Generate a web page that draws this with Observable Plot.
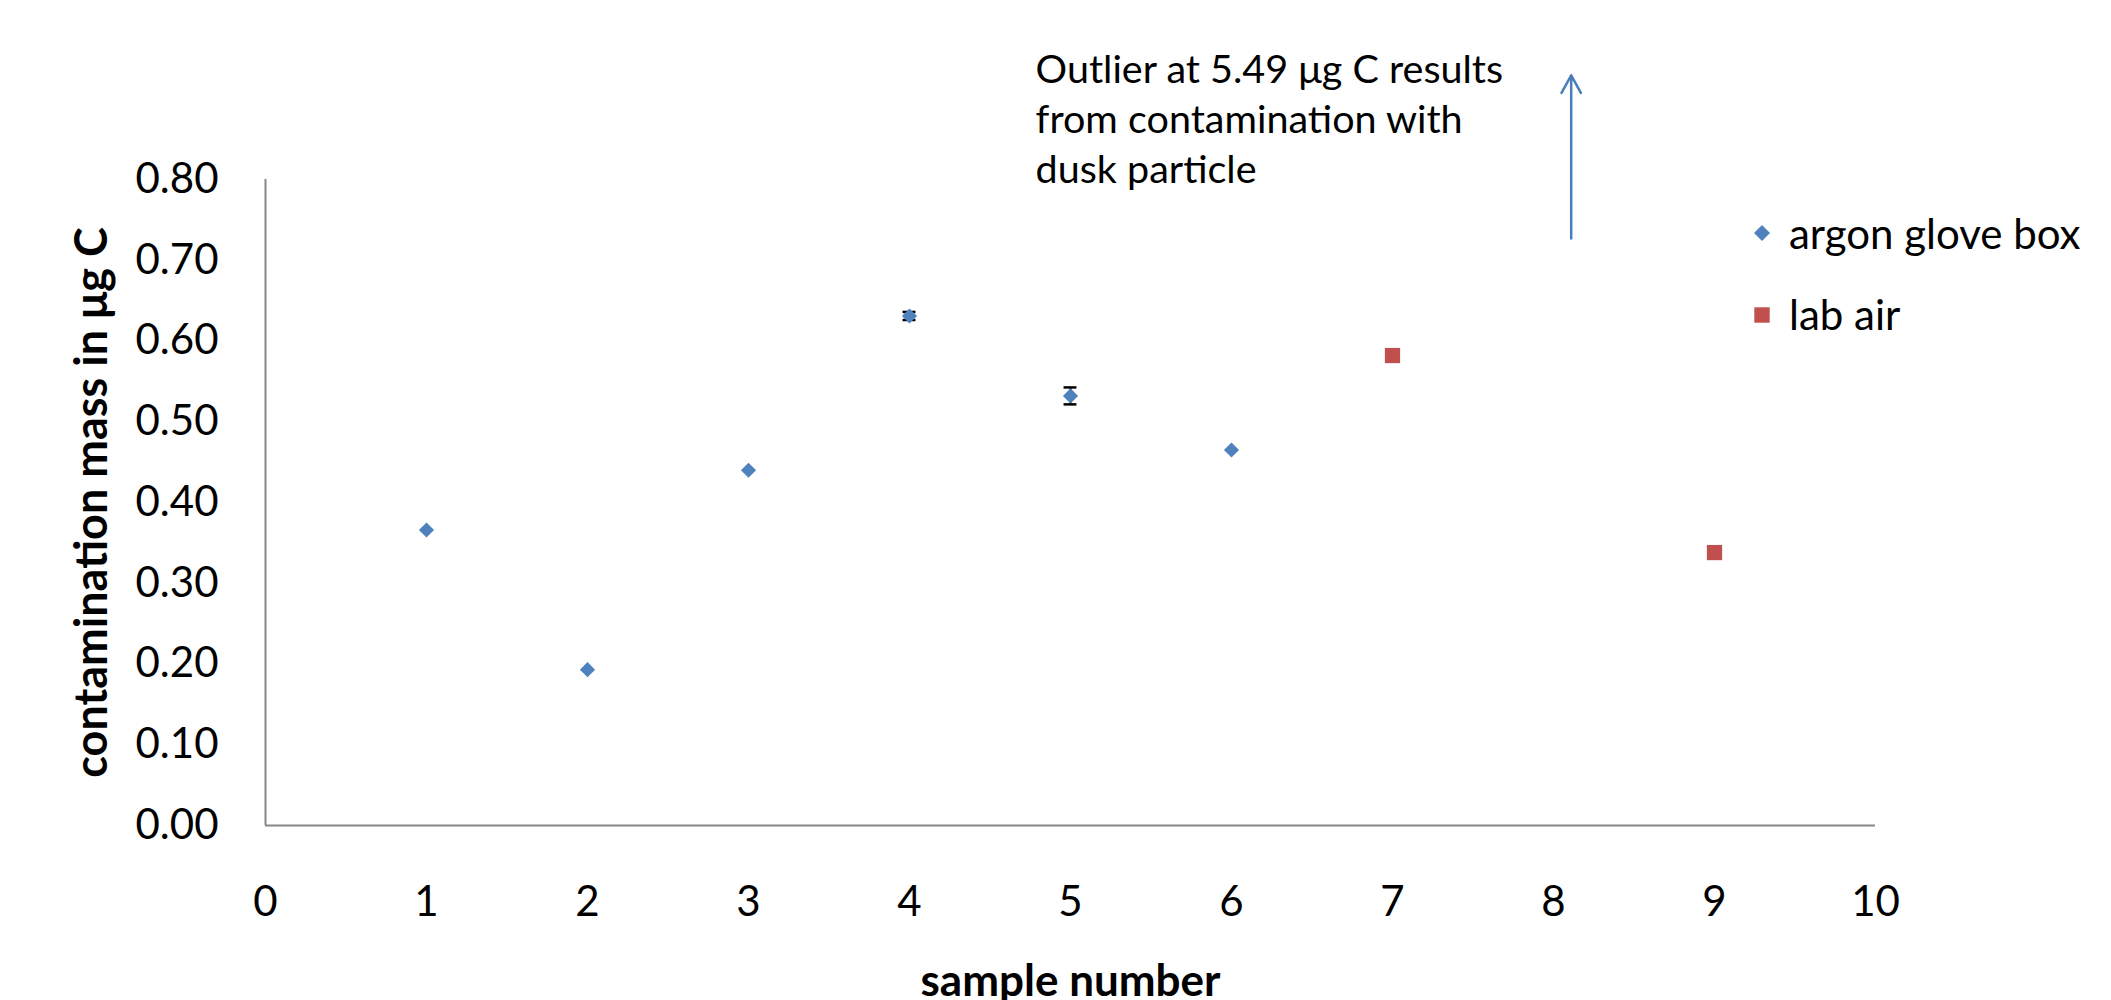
<!DOCTYPE html>
<html>
<head>
<meta charset="utf-8">
<script src="https://cdn.jsdelivr.net/npm/d3@7"></script>
<script src="https://cdn.jsdelivr.net/npm/@observablehq/plot@0.6"></script>
<style>
  body { margin: 0; background: #fff; }
  #wrap { position: relative; width: 2111px; height: 1000px; font-family: Lato, "Open Sans", sans-serif; overflow: hidden; }
  .legend-row { position: absolute; font-size: 42px; line-height: 42px; color: #000; white-space: nowrap; }
  .legend-mk { position: absolute; }
</style>
</head>
<body>
<div id="wrap"></div>
<script>
// ---- data ----
const samples = [1, 2, 3, 4, 5, 6, 7, 9];
const values  = [0.366, 0.193, 0.440, 0.631, 0.532, 0.465, 0.582, 0.338];
const errors  = [0, 0, 0, 0.005, 0.0105, 0, 0, 0];
const series  = ["argon glove box", "argon glove box", "argon glove box", "argon glove box",
                 "argon glove box", "argon glove box", "lab air", "lab air"];
const seriesNames   = ["argon glove box", "lab air"];
const seriesColors  = ["#4f81bd", "#c0504d"];
const seriesSymbols = ["diamond2", "square"];
const xTicks = [0, 1, 2, 3, 4, 5, 6, 7, 8, 9, 10];
const yTicks = [0, 0.1, 0.2, 0.3, 0.4, 0.5, 0.6, 0.7, 0.8];
const xTitle = "sample number";
const yTitle = "contamination mass in μg C";
const noteLines = ["Outlier at 5.49 μg C results", "from contamination with", "dusk particle"];
const noteX = 4.783, noteY = 0.964;          // annotation anchor (data space)
const arrowX = 8.11, arrowFrom = 0.727, arrowTo = 0.929;  // outlier arrow (data space)

// ---- build ----
const data = samples.map((s, i) => ({sample: s, value: values[i], err: errors[i], series: series[i]}));
const errData = data.filter(d => d.err > 0);
const capHalf = 0.04;
const symbolR = {"diamond2": 6.8, "square": 8.6};

const plot = Plot.plot({
  width: 2111,
  height: 1000,
  marginLeft: 265,
  marginRight: 236,
  marginTop: 179,
  marginBottom: 175,
  style: {fontFamily: "Lato, 'Open Sans', sans-serif", background: "white", color: "black", overflow: "visible"},
  x: {domain: [0, 10]},
  y: {domain: [0, 0.8]},
  color: {domain: seriesNames, range: seriesColors},
  symbol: {domain: seriesNames, range: seriesSymbols},
  marks: [
    Plot.axisY({ticks: yTicks, tickFormat: d3.format(".2f"), tickSize: 0, tickPadding: 47, fontSize: 42, label: null}),
    Plot.axisX({ticks: xTicks, tickFormat: d3.format("d"), tickSize: 0, tickPadding: 61, fontSize: 42, label: null}),
    Plot.ruleX([0], {y1: 0, y2: 0.8, stroke: "#868686", strokeWidth: 2}),
    Plot.ruleY([0], {x1: 0, x2: 10, stroke: "#868686", strokeWidth: 2}),
    Plot.ruleX(errData, {x: "sample", y1: d => d.value - d.err, y2: d => d.value + d.err, stroke: "black", strokeWidth: 2}),
    Plot.ruleY(errData, {y: d => d.value + d.err, x1: d => d.sample - capHalf, x2: d => d.sample + capHalf, stroke: "black", strokeWidth: 2.5}),
    Plot.ruleY(errData, {y: d => d.value - d.err, x1: d => d.sample - capHalf, x2: d => d.sample + capHalf, stroke: "black", strokeWidth: 2.5}),
    ...seriesNames.map((name, k) =>
      Plot.dot(data.filter(d => d.series === name), {
        x: "sample", y: "value", symbol: "series", fill: "series", r: symbolR[seriesSymbols[k]]
      })
    ),
    Plot.arrow([0], {x1: arrowX, x2: arrowX, y1: arrowFrom, y2: arrowTo, stroke: "#4a7ebb", strokeWidth: 2.5, headLength: 12, headAngle: 58}),
    Plot.text([noteLines.join("\n")], {x: noteX, y: noteY, textAnchor: "start", lineAnchor: "top", fontSize: 39.5, lineHeight: 50 / 39.5, fill: "black"}),
    Plot.text([xTitle], {frameAnchor: "bottom", textAnchor: "middle", lineAnchor: "middle", dy: 156, fontSize: 44, fontWeight: "bold", fill: "black"}),
    Plot.text([yTitle], {frameAnchor: "left", textAnchor: "middle", lineAnchor: "middle", dx: -173, dy: 0, rotate: -90, fontSize: 45, fontWeight: "bold", fill: "black"})
  ]
});

const wrap = document.getElementById("wrap");
wrap.appendChild(plot);

// ---- legend (HTML, right side) ----
const legendPos = [{top: 212, cy: 233}, {top: 293, cy: 315}];
seriesNames.forEach((name, k) => {
  const size = k === 0 ? 16 : 15.4;
  const mk = d3.create("svg").attr("class", "legend-mk")
    .attr("width", 24).attr("height", 24)
    .style("left", (1762 - 12) + "px").style("top", (legendPos[k].cy - 12) + "px");
  const sym = k === 0 ? d3.symbolDiamond2 : d3.symbolSquare;
  const area = k === 0 ? Math.pow(size / (2 * 0.62625), 2) : size * size;
  mk.append("path").attr("transform", "translate(12,12)")
    .attr("d", d3.symbol(sym, area)()).attr("fill", seriesColors[k]);
  wrap.appendChild(mk.node());
  const row = document.createElement("div");
  row.className = "legend-row";
  row.style.left = "1789px";
  row.style.top = legendPos[k].top + "px";
  row.textContent = name;
  wrap.appendChild(row);
});
</script>
</body>
</html>
